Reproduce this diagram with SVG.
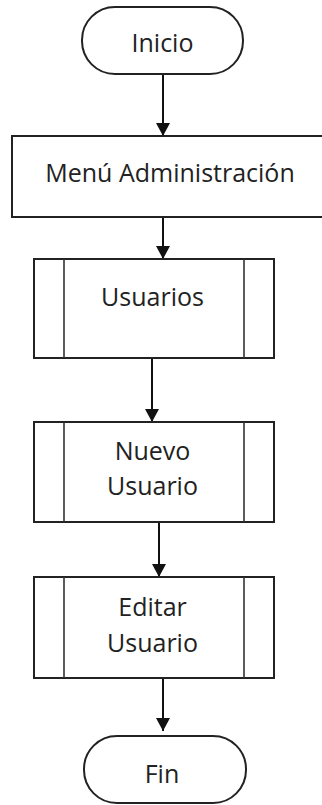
<svg xmlns="http://www.w3.org/2000/svg" width="322" height="805" viewBox="0 0 322 805">
<style>
.s{fill:#fff;stroke:#222;stroke-width:2}
.l{stroke:#333;stroke-width:1.6}
.t{font-family:"Open Sans","Liberation Sans",sans-serif;font-size:25px;fill:#222;text-anchor:middle}
.c{stroke:#111;stroke-width:2;fill:none}
</style>
<defs>
<marker id="ah" markerUnits="userSpaceOnUse" markerWidth="13" markerHeight="14" refX="13" refY="7" orient="auto">
<path d="M0,0 L13,7 L0,14 z" fill="#111"/>
</marker>
</defs>
<g id="connectors">
<line class="c" x1="163" y1="74" x2="163" y2="136" marker-end="url(#ah)"/>
<line class="c" x1="163" y1="217" x2="163" y2="259" marker-end="url(#ah)"/>
<line class="c" x1="152" y1="358" x2="152" y2="422" marker-end="url(#ah)"/>
<line class="c" x1="159" y1="522" x2="159" y2="577" marker-end="url(#ah)"/>
<line class="c" x1="163" y1="678" x2="163" y2="731" marker-end="url(#ah)"/>
</g>
<g id="inicio">
<rect class="s" x="82" y="7" width="161" height="67" rx="33"/>
<text class="t" x="162.5" y="52">Inicio</text>
</g>
<g id="menu">
<rect class="s" x="12" y="136" width="330" height="81"/>
<text class="t" x="170" y="182">Menú Administración</text>
</g>
<g id="usuarios">
<rect class="s" x="34" y="259" width="240" height="99"/>
<line class="l" x1="64" y1="259" x2="64" y2="358"/>
<line class="l" x1="244" y1="259" x2="244" y2="358"/>
<text class="t" x="152.5" y="306">Usuarios</text>
</g>
<g id="nuevo">
<rect class="s" x="34" y="422" width="240" height="100"/>
<line class="l" x1="64" y1="422" x2="64" y2="522"/>
<line class="l" x1="244" y1="422" x2="244" y2="522"/>
<text class="t" x="152.5" y="460">Nuevo</text>
<text class="t" x="152.5" y="495">Usuario</text>
</g>
<g id="editar">
<rect class="s" x="34" y="577" width="240" height="101"/>
<line class="l" x1="64" y1="577" x2="64" y2="678"/>
<line class="l" x1="244" y1="577" x2="244" y2="678"/>
<text class="t" x="152.5" y="616">Editar</text>
<text class="t" x="152.5" y="652">Usuario</text>
</g>
<g id="fin">
<rect class="s" x="84" y="736" width="162" height="67" rx="33"/>
<text class="t" x="162" y="783">Fin</text>
</g>
</svg>
